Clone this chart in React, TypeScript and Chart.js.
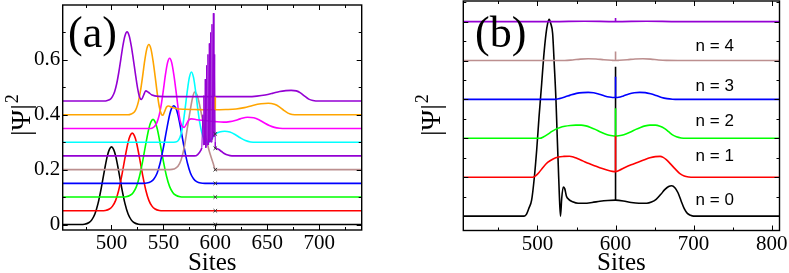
import React, { useEffect, useRef } from 'react';
import { Chart, registerables } from 'chart.js';
Chart.register(...registerables);

const SERIF = '"Liberation Serif", "Times New Roman", serif';
const SANS = '"Liberation Sans", Arial, sans-serif';

type Pt = [number, number];

// ---------- Panel (a) ----------
const aXRange: Pt = [453, 741];
const aYRange: Pt = [-0.02, 0.8];
const aXTicks = [500, 550, 600, 650, 700];
const aXMinor = [475, 525, 575, 625, 675, 725];
const aYTicks = [0, 0.2, 0.4, 0.6];
const aYMinor = [0.1, 0.3, 0.5, 0.7];

const aBlack: Pt[] = [[453, 0], [470, 0], [474, 0.001], [478, 0.0065], [481, 0.017], [484, 0.038], [487, 0.076], [490, 0.13], [493, 0.193], [496, 0.25], [498, 0.274], [500, 0.283], [502, 0.274], [504, 0.25], [507, 0.193], [510, 0.13], [513, 0.076], [516, 0.038], [519, 0.017], [522, 0.0065], [526, 0.001], [530, 0], [741, 0]];
const aRed: Pt[] = [[453, 0.05], [490, 0.05], [494, 0.051], [498, 0.0565], [501, 0.067], [504, 0.088], [507, 0.126], [510, 0.18], [513, 0.243], [516, 0.3], [518, 0.324], [520, 0.333], [522, 0.324], [524, 0.3], [527, 0.243], [530, 0.18], [533, 0.126], [536, 0.088], [539, 0.067], [542, 0.0565], [546, 0.051], [550, 0.05], [741, 0.05]];
const aGreen: Pt[] = [[453, 0.1], [510, 0.1], [514, 0.101], [518, 0.1065], [521, 0.117], [524, 0.138], [527, 0.176], [530, 0.23], [533, 0.293], [536, 0.35], [538, 0.374], [540, 0.383], [542, 0.374], [544, 0.35], [547, 0.293], [550, 0.23], [553, 0.176], [556, 0.138], [559, 0.117], [562, 0.1065], [566, 0.101], [570, 0.1], [741, 0.1]];
const aBlue: Pt[] = [[453, 0.15], [530, 0.15], [534, 0.151], [538, 0.1565], [541, 0.167], [544, 0.188], [547, 0.226], [550, 0.28], [553, 0.343], [556, 0.4], [558, 0.424], [560, 0.433], [562, 0.424], [564, 0.4], [567, 0.343], [570, 0.28], [573, 0.226], [576, 0.188], [579, 0.167], [582, 0.1565], [586, 0.151], [590, 0.15], [741, 0.15]];
const aBrown: Pt[] = [[453, 0.2], [556, 0.2], [560, 0.202], [564, 0.212], [567, 0.235], [570, 0.28], [573, 0.35], [576, 0.42], [578, 0.46], [580, 0.483], [582, 0.475], [584, 0.45], [586, 0.415], [588, 0.375], [590, 0.335], [592, 0.3], [594, 0.27], [596, 0.245], [598, 0.222], [600, 0.2], [741, 0.2]];
const aVioletLeft: Pt[] = [[453, 0.25], [580, 0.25], [583, 0.255], [586, 0.27], [587, 0.28]];
const aVioletSpikes: Pt[] = [[587, 0.28], [588, 0.4], [588.5, 0.29], [589, 0.47], [589.6, 0.29], [590.3, 0.53], [590.9, 0.28], [591.6, 0.58], [592.2, 0.29], [592.9, 0.62], [593.5, 0.29], [594.2, 0.66], [594.8, 0.3], [595.5, 0.7], [596.1, 0.3], [596.8, 0.73], [597.4, 0.31], [598.1, 0.77], [598.7, 0.32], [599.4, 0.62], [599.9, 0.3], [600, 0.278]];
const aVioletRight: Pt[] = [[600, 0.278], [603, 0.274], [606, 0.266], [609, 0.258], [612, 0.253], [616, 0.25], [741, 0.25]];
const aCyan: Pt[] = [[453, 0.3], [560, 0.3], [563, 0.302], [565, 0.31], [567, 0.33], [569, 0.368], [571, 0.425], [573, 0.486], [575, 0.536], [577, 0.556], [579, 0.536], [581, 0.486], [583, 0.425], [585, 0.371], [587, 0.335], [589, 0.314], [591, 0.303], [593, 0.3], [595, 0.305], [597, 0.315], [600, 0.33], [604, 0.337], [609, 0.34], [614, 0.337], [619, 0.328], [624, 0.316], [629, 0.306], [634, 0.301], [640, 0.3], [741, 0.3]];
const aMagenta: Pt[] = [[453, 0.35], [538, 0.35], [540, 0.353], [542, 0.36], [544, 0.374], [546, 0.399], [548, 0.439], [550, 0.491], [552, 0.547], [554, 0.59], [556, 0.606], [558, 0.59], [560, 0.547], [562, 0.491], [564, 0.43], [566, 0.38], [568, 0.358], [570, 0.354], [572, 0.365], [574.5, 0.381], [577, 0.385], [582, 0.382], [590, 0.379], [600, 0.375], [608, 0.373], [614, 0.375], [619, 0.379], [624, 0.385], [631, 0.391], [637, 0.389], [642, 0.382], [647, 0.371], [652, 0.361], [657, 0.354], [662, 0.351], [668, 0.35], [741, 0.35]];
const aOrange: Pt[] = [[453, 0.4], [516, 0.4], [519, 0.403], [522, 0.41], [524, 0.424], [526, 0.449], [528, 0.489], [530, 0.541], [532, 0.597], [534, 0.64], [536, 0.656], [538, 0.64], [540, 0.597], [542, 0.541], [544, 0.48], [546, 0.43], [548, 0.402], [549.5, 0.398], [551, 0.41], [553, 0.428], [555, 0.432], [558, 0.427], [563, 0.422], [570, 0.42], [580, 0.419], [590, 0.418], [600, 0.418], [610, 0.419], [620, 0.421], [628, 0.426], [636, 0.434], [644, 0.44], [651, 0.442], [657, 0.438], [662, 0.428], [666, 0.416], [670, 0.406], [674, 0.401], [680, 0.4], [741, 0.4]];
const aOrangeSpike: Pt[] = [[600, 0.418], [600, 0.466]];
const aIndigo: Pt[] = [[453, 0.45], [493, 0.45], [496, 0.452], [499, 0.457], [501, 0.467], [503, 0.484], [505, 0.513], [507, 0.554], [509, 0.603], [511, 0.652], [513, 0.688], [515, 0.702], [517, 0.688], [519, 0.652], [521, 0.603], [523, 0.55], [525, 0.5], [527, 0.465], [529, 0.456], [531, 0.472], [533, 0.487], [535.5, 0.482], [539, 0.472], [545, 0.467], [560, 0.466], [600, 0.466], [632, 0.466], [640, 0.468], [648, 0.472], [655, 0.478], [662, 0.485], [668, 0.488], [673, 0.489], [678, 0.487], [682, 0.48], [686, 0.468], [690, 0.457], [694, 0.452], [700, 0.45], [741, 0.45]];
const aMarkX = [600, 600, 600, 600, 600, 600, 600];
const aMarkY = [0, 0.05, 0.1, 0.15, 0.2, 0.278, 0.33];

// ---------- Panel (b) ----------
const bXRange: Pt = [405, 810];
const bYRange: Pt = [-0.37, 5.53];
const bXTicks = [500, 600, 700, 800];
const bXMinor = [450, 550, 650, 750];
const bYTicks = [0, 1, 2, 3, 4, 5];
const bYMinor = [0.5, 1.5, 2.5, 3.5, 4.5, 5.5];
const bLabels = ['n = 0', 'n = 1', 'n = 2', 'n = 3', 'n = 4'];
const bLabelY = [0.41, 1.53, 2.43, 3.33, 4.36];
const bLabelX = 727;

const bN0: Pt[] = [[405, 0], [483, 0], [486, 0.05], [489, 0.2], [492.5, 0.41], [496, 1.0], [499, 1.7], [502, 2.55], [505.4, 3.41], [508, 4.1], [511, 4.7], [513, 4.95], [515, 5.06], [517, 4.95], [519.4, 4.7], [521.5, 3.9], [523.7, 2.98], [525.2, 2.1], [526.7, 1.27], [528, 0.55], [529.5, 0.0], [531, 0.45], [533, 0.75], [535, 0.7], [537, 0.52], [540, 0.43], [545, 0.37], [552, 0.33], [560, 0.33], [570, 0.35], [580, 0.38], [590, 0.4], [600, 0.41], [610, 0.39], [620, 0.35], [630, 0.33], [640, 0.33], [646, 0.36], [652, 0.43], [658, 0.56], [663, 0.68], [668, 0.76], [672, 0.78], [676, 0.73], [680, 0.6], [684, 0.39], [688, 0.19], [692, 0.07], [696, 0.02], [700, 0], [810, 0]];
const bN0Spike: Pt[] = [[600, 0.41], [600, 3.84]];
const bN1: Pt[] = [[405, 1], [494, 1], [498, 1.04], [502, 1.12], [507, 1.25], [513, 1.38], [520, 1.47], [527, 1.52], [534, 1.535], [541, 1.54], [546, 1.52], [551, 1.48], [558, 1.42], [566, 1.35], [574, 1.29], [582, 1.23], [590, 1.18], [596, 1.15], [600, 1.14], [605, 1.18], [612, 1.25], [620, 1.32], [628, 1.38], [636, 1.44], [644, 1.5], [651, 1.53], [657, 1.535], [661, 1.51], [665, 1.45], [670, 1.35], [676, 1.22], [682, 1.1], [688, 1.03], [694, 1.005], [700, 1.0], [810, 1.0]];
const bN1Spike: Pt[] = [[600, 1.14], [600, 2.08]];
const bN2: Pt[] = [[405, 2], [503, 2], [508, 2.04], [513, 2.1], [518, 2.17], [523, 2.23], [529, 2.28], [535, 2.31], [542, 2.33], [549, 2.34], [556, 2.34], [562, 2.32], [568, 2.28], [574, 2.23], [580, 2.17], [586, 2.12], [592, 2.08], [596, 2.065], [600, 2.06], [604, 2.065], [608, 2.08], [614, 2.12], [620, 2.17], [626, 2.23], [632, 2.28], [638, 2.32], [644, 2.34], [651, 2.34], [657, 2.31], [663, 2.25], [668, 2.17], [673, 2.09], [678, 2.04], [684, 2.01], [690, 2.0], [810, 2]];
const bN2Spike: Pt[] = [[600, 2.06], [600, 2.77]];
const bN3: Pt[] = [[405, 3], [522, 3], [528, 3.02], [535, 3.06], [542, 3.11], [550, 3.155], [558, 3.175], [565, 3.18], [572, 3.17], [579, 3.135], [586, 3.09], [592, 3.06], [596, 3.05], [600, 3.05], [604, 3.055], [610, 3.09], [617, 3.14], [624, 3.17], [631, 3.18], [638, 3.175], [645, 3.145], [652, 3.1], [659, 3.05], [666, 3.02], [673, 3.005], [680, 3.0], [810, 3]];
const bN3Spike: Pt[] = [[600, 3.05], [600, 3.58]];
const bN4: Pt[] = [[405, 4], [535, 4], [545, 4.015], [555, 4.035], [565, 4.045], [575, 4.04], [585, 4.02], [595, 4.005], [600, 4.0], [605, 4.005], [615, 4.02], [625, 4.04], [635, 4.045], [645, 4.035], [655, 4.015], [665, 4.003], [680, 4.0], [810, 4]];
const bN4Spike: Pt[] = [[600, 4.0], [600, 4.23]];
const bN5: Pt[] = [[405, 5], [520, 5], [560, 5.01], [600, 5.0], [640, 5.01], [680, 5], [810, 5]];
const bN5Spike: Pt[] = [[600, 5.0], [600, 5.09]];

// ---------- colours ----------
const C = {
  black: '#000000', red: '#ff0000', green: '#00ff00', blue: '#0000ff',
  brown: '#bc8f8f', violet: '#9400d3', cyan: '#00ffff', magenta: '#ff00ff', orange: '#ffa500',
};

function xy(p: Pt[]) {
  return p.map(([x, y]) => ({ x, y }));
}
function curve(p: Pt[], color: string, smooth = true, width = 1.6) {
  return {
    data: xy(p),
    borderColor: color,
    backgroundColor: color,
    borderWidth: width,
    pointRadius: 0,
    fill: false,
    tension: 0,
    cubicInterpolationMode: smooth ? 'monotone' : 'default',
  };
}

type DecorCfg = {
  xMajor: number[]; xMinor: number[]; yMajor: number[]; yMinor: number[];
  panel: string; panelX: number; titleX: number; titleY: number;
  notes?: { text: string; x: number; y: number }[];
};

function makeDecor(cfg: DecorCfg) {
  return {
    id: 'decor',
    afterDatasetsDraw(chart: any) {
      const { ctx, chartArea: a, scales } = chart;
      const xs = scales.x;
      const ys = scales.y;
      ctx.save();
      ctx.strokeStyle = '#000';
      ctx.lineWidth = 1;
      const drawX = (vals: number[], len: number) => {
        for (const v of vals) {
          const p = Math.round(xs.getPixelForValue(v)) + 0.5;
          ctx.beginPath();
          ctx.moveTo(p, a.bottom);
          ctx.lineTo(p, a.bottom - len);
          ctx.moveTo(p, a.top);
          ctx.lineTo(p, a.top + len);
          ctx.stroke();
        }
      };
      const drawY = (vals: number[], len: number) => {
        for (const v of vals) {
          const p = Math.round(ys.getPixelForValue(v)) + 0.5;
          ctx.beginPath();
          ctx.moveTo(a.left, p);
          ctx.lineTo(a.left + len, p);
          ctx.moveTo(a.right, p);
          ctx.lineTo(a.right - len, p);
          ctx.stroke();
        }
      };
      drawX(cfg.xMajor, 5);
      drawX(cfg.xMinor, 3);
      drawY(cfg.yMajor, 5);
      drawY(cfg.yMinor, 3);
      ctx.lineWidth = 1.4;
      ctx.strokeRect(a.left, a.top, a.right - a.left, a.bottom - a.top);
      ctx.restore();
    },
    afterDraw(chart: any) {
      const { ctx, scales } = chart;
      ctx.save();
      ctx.fillStyle = '#000';
      ctx.font = `44px ${SERIF}`;
      ctx.textAlign = 'left';
      ctx.textBaseline = 'alphabetic';
      ctx.fillText(cfg.panel, cfg.panelX, 47);
      // y title |Ψ|²
      ctx.save();
      ctx.translate(cfg.titleX, cfg.titleY);
      ctx.rotate(-Math.PI / 2);
      ctx.textAlign = 'left';
      ctx.textBaseline = 'alphabetic';
      ctx.font = `28px ${SERIF}`;
      ctx.fillText('|Ψ|', 0, 0);
      const w = ctx.measureText('|Ψ|').width;
      ctx.font = `18px ${SERIF}`;
      ctx.fillText('2', w + 1, -12);
      ctx.restore();
      if (cfg.notes) {
        ctx.font = `17px ${SANS}`;
        ctx.textAlign = 'center';
        ctx.textBaseline = 'middle';
        for (const n of cfg.notes) {
          ctx.fillText(n.text, scales.x.getPixelForValue(n.x), scales.y.getPixelForValue(n.y));
        }
      }
      ctx.restore();
    },
  };
}

function axes(xr: Pt, yr: Pt, xTicks: number[], yTicks: number[], yLabels: boolean, yWidth: number, xHeight: number) {
  return {
    x: {
      type: 'linear',
      min: xr[0],
      max: xr[1],
      grid: { display: false, drawTicks: false },
      border: { display: false },
      afterBuildTicks: (s: any) => { s.ticks = xTicks.map((v) => ({ value: v })); },
      afterFit: (s: any) => { s.height = xHeight; s.paddingLeft = 0; s.paddingRight = 0; },
      ticks: {
        color: '#000', padding: 1, maxRotation: 0, autoSkip: false,
        font: { family: SERIF, size: 21 },
        callback: (v: number) => String(v),
      },
      title: {
        display: true, text: 'Sites', color: '#000',
        font: { family: SERIF, size: 25, lineHeight: 0.8 },
        padding: { top: 0, bottom: 0 },
      },
    },
    y: {
      type: 'linear',
      min: yr[0],
      max: yr[1],
      grid: { display: false, drawTicks: false },
      border: { display: false },
      afterBuildTicks: (s: any) => { s.ticks = yTicks.map((v) => ({ value: v })); },
      afterFit: (s: any) => { s.width = yWidth; s.paddingTop = 0; s.paddingBottom = 0; },
      ticks: {
        display: yLabels,
        color: '#000', padding: 2.5,
        font: { family: SERIF, size: 21 },
        callback: (v: number) => String(Math.round(v * 10) / 10),
      },
    },
  };
}

function configA(): any {
  const marks = {
    data: aMarkX.map((x, i) => ({ x, y: aMarkY[i] })),
    showLine: false,
    pointStyle: 'crossRot',
    pointRadius: 2.5,
    borderColor: '#333',
    backgroundColor: '#333',
    pointBorderWidth: 1,
    borderWidth: 1,
  };
  return {
    type: 'line',
    data: {
      datasets: [
        marks,
        curve(aOrangeSpike, C.orange, false),
        curve(aVioletSpikes, C.violet, false, 1),
        curve(aIndigo, C.violet),
        curve(aOrange, C.orange),
        curve(aMagenta, C.magenta),
        curve(aCyan, C.cyan),
        curve(aVioletLeft, C.violet),
        curve(aVioletRight, C.violet),
        curve(aBrown, C.brown),
        curve(aBlue, C.blue),
        curve(aGreen, C.green),
        curve(aRed, C.red),
        curve(aBlack, C.black),
      ],
    },
    options: {
      responsive: false,
      maintainAspectRatio: false,
      animation: false,
      events: [],
      layout: { padding: { left: 0, right: 38.3, top: 2, bottom: 0 } },
      plugins: { legend: { display: false }, tooltip: { enabled: false } },
      scales: axes(aXRange, aYRange, aXTicks, aYTicks, true, 62.7, 43),
    },
    plugins: [makeDecor({
      xMajor: aXTicks, xMinor: aXMinor, yMajor: aYTicks, yMinor: aYMinor,
      panel: '(a)', panelX: 68, titleX: 30, titleY: 136,
    })],
  };
}

function configB(): any {
  return {
    type: 'line',
    data: {
      datasets: [
        curve(bN5Spike, C.violet, false),
        curve(bN4Spike, C.brown, false),
        curve(bN3Spike, C.blue, false),
        curve(bN2Spike, C.green, false),
        curve(bN1Spike, C.red, false),
        curve(bN5, C.violet),
        curve(bN4, C.brown),
        curve(bN3, C.blue),
        curve(bN2, C.green),
        curve(bN1, C.red),
        curve(bN0, C.black),
        curve(bN0Spike, C.black, false),
      ],
    },
    options: {
      responsive: false,
      maintainAspectRatio: false,
      animation: false,
      events: [],
      layout: { padding: { left: 0, right: 9.5, top: 1, bottom: 0 } },
      plugins: { legend: { display: false }, tooltip: { enabled: false } },
      scales: axes(bXRange, bYRange, bXTicks, bYTicks, false, 63.3, 42.5),
    },
    plugins: [makeDecor({
      xMajor: bXTicks, xMinor: bXMinor, yMajor: bYTicks, yMinor: bYMinor,
      panel: '(b)', panelX: 75, titleX: 40, titleY: 136,
      notes: bLabels.map((t, i) => ({ text: t, x: bLabelX, y: bLabelY[i] })),
    })],
  };
}

export default function App() {
  const refA = useRef<HTMLCanvasElement>(null);
  const refB = useRef<HTMLCanvasElement>(null);
  useEffect(() => {
    const ca = new Chart(refA.current as HTMLCanvasElement, configA());
    const cb = new Chart(refB.current as HTMLCanvasElement, configB());
    return () => {
      ca.destroy();
      cb.destroy();
    };
  }, []);
  return (
    <div style={{ position: 'absolute', left: 0, top: 0, width: 789, height: 273, background: '#fff' }}>
      <canvas ref={refA} width={400} height={273} style={{ position: 'absolute', left: 0, top: 0, width: 400, height: 273 }} />
      <canvas ref={refB} width={389} height={273} style={{ position: 'absolute', left: 400, top: 0, width: 389, height: 273 }} />
    </div>
  );
}
